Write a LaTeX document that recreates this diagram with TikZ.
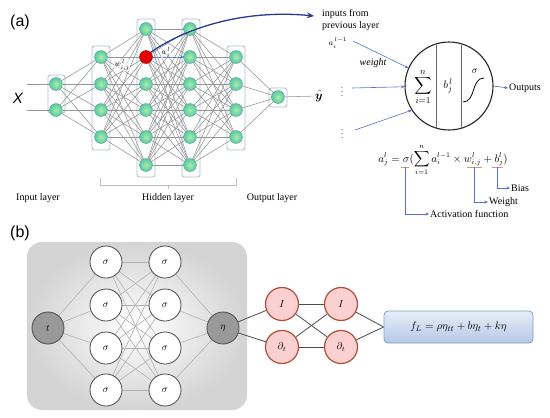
\documentclass[tikz,border=0pt]{standalone}
\usepackage{amsmath}
\usepackage{bm}
\usepackage{fontspec}
\setmainfont{Liberation Serif}
\newfontfamily\sansf{Liberation Sans}
\usetikzlibrary{arrows.meta}
\definecolor{gin}{HTML}{A6EFA8}
\definecolor{gout}{HTML}{5CC6A6}
\definecolor{boxc}{HTML}{AFC3CF}
\definecolor{edgec}{HTML}{959595}
\definecolor{navy}{HTML}{2B3990}
\definecolor{lblue}{HTML}{5B6FD0}
\definecolor{ulc}{HTML}{D09A70}
\definecolor{rbord}{HTML}{B0503A}
\definecolor{rfill}{HTML}{FAD0D0}
\definecolor{fbord}{HTML}{7F9FCF}
\definecolor{ftop}{HTML}{E6EEF8}
\definecolor{fbot}{HTML}{B6C8E6}
\pgfdeclarelayer{bgbox}
\pgfdeclarelayer{bg}
\pgfsetlayers{bgbox,bg,main}
\begin{document}
\begin{tikzpicture}[x=1pt,y=-1pt,
  gn/.style={circle,minimum size=13pt,inner sep=0pt,inner color=gin,outer color=gout,draw=gout!80!black,line width=0.3pt},
  rn/.style={circle,minimum size=13pt,inner sep=0pt,fill=red!90!black,draw=red!50!black,line width=0.4pt},
  lbox/.style={draw=boxc,rounded corners=2.5pt,line width=0.9pt,fill=white},
  ed/.style={draw=edgec,line width=0.55pt},
  txt/.style={font=\fontsize{10}{12}\selectfont,inner sep=1pt},
  barrow/.style={draw=lblue,line width=0.6pt,-{Stealth[length=3.5pt,width=3pt]}},
  ul/.style={draw=ulc,line width=0.8pt},
  dn/.style={circle,minimum size=32pt,inner sep=0pt,draw=black!70,fill=black!40,line width=0.8pt},
  sn/.style={circle,minimum size=32pt,inner sep=0pt,draw=black!70,fill=white,line width=0.8pt},
  rnd/.style={circle,minimum size=33pt,inner sep=0pt,draw=rbord,fill=rfill,line width=1.2pt},
  led/.style={draw=black!30,line width=0.6pt},
  ded/.style={draw=black!70,line width=0.8pt},
  fbox/.style={draw=fbord,line width=0.8pt,rounded corners=4pt,top color=ftop,bottom color=fbot,minimum width=149pt,minimum height=32pt}
]
\useasboundingbox (0,0) rectangle (550,418);
\begin{pgfonlayer}{bgbox}
\fill[white] (0,0) rectangle (550,418);
\end{pgfonlayer}

% ---------- (a) ----------
\node[font=\sansf\fontsize{16}{16}\selectfont] (la) at (20,22) {(a)};

\begin{pgfonlayer}{bgbox}
\draw[lbox] (48,75) rectangle (65,113);
\draw[lbox] (92,46) rectangle (110,150);
\draw[lbox] (137,19) rectangle (155,177);
\draw[lbox] (182,19) rectangle (200,177);
\draw[lbox] (227,46) rectangle (245,150);
\draw[lbox] (269,88) rectangle (287,107);
\end{pgfonlayer}

\foreach \y [count=\i] in {84,110} \node[gn] (a1-\i) at (56,\y) {};
\foreach \y [count=\i] in {57,84,110,137} \node[gn] (a2-\i) at (101,\y) {};
\foreach \y/\s [count=\i] in {29/gn,57/rn,84/gn,110/gn,137/gn,165/gn} \node[\s] (a3-\i) at (146,\y) {};
\foreach \y [count=\i] in {29,57,84,110,137,165} \node[gn] (a4-\i) at (190,\y) {};
\foreach \y [count=\i] in {57,84,110,137} \node[gn] (a5-\i) at (236,\y) {};
\node[gn] (a6) at (278,97) {};

\begin{pgfonlayer}{bg}
\foreach \i in {1,2} \foreach \j in {1,...,4} \draw[ed] (a1-\i) -- (a2-\j);
\foreach \i in {1,...,4} \foreach \j in {1,...,6} \draw[ed] (a2-\i) -- (a3-\j);
\foreach \i in {1,...,6} \foreach \j in {1,...,6} \draw[ed] (a3-\i) -- (a4-\j);
\foreach \i in {1,...,6} \foreach \j in {1,...,4} \draw[ed] (a4-\i) -- (a5-\j);
\foreach \i in {1,...,4} \draw[ed] (a5-\i) -- (a6);
\coordinate (x1) at (27,84);
\coordinate (x2) at (27,110);
\draw[ed] (x1) -- (a1-1);
\draw[ed] (x2) -- (a1-2);
\end{pgfonlayer}

\node[font=\sansf\itshape\fontsize{15}{15}\selectfont] (X) at (18,98) {X};
\node[font=\fontsize{12}{12}\selectfont] (yh) at (319,96) {$\hat{\bm y}$};
\draw[ed] (a6) -- (yh);

\node[font=\footnotesize,inner sep=0.5pt,fill=white,fill opacity=0.6,text opacity=1] (wl) at (122,65) {$w_{i,j}^{\,l}$};
\node[font=\footnotesize,inner sep=0.5pt,fill=white,fill opacity=0.6,text opacity=1] (al) at (166,53) {$a_j^{\,l}$};
\draw[draw=lblue,densely dashed,line width=0.6pt,-{Stealth[length=3pt,width=3pt]}] (a3-2) -- (a4-2);

\coordinate (arrEnd) at (314,16);
\draw[navy,line width=1.3pt,-{Stealth[length=7pt,width=6pt]}] (a3-2.north east) .. controls (195,22) and (255,10) .. (arrEnd);

\draw[black!25,line width=0.8pt] (100,178) -- (100,185) -- (236,185) -- (236,178);
\draw[black!25,line width=0.8pt] (168,185) -- (168,189);
\node[txt] (inl) at (38,198) {Input layer};
\node[txt] (hl) at (168,198) {Hidden layer};
\node[txt] (ol) at (272,198) {Output layer};

% neuron
\node[txt,anchor=west,align=left] (inp) at (321,20) {inputs from\\previous layer};
\node[font=\footnotesize,inner sep=0.5pt] (ai) at (338,43) {$a_i^{\,l-1}$};
\node[txt,font=\fontsize{10}{12}\selectfont\itshape] (wt0) at (373,63) {weight};
\node[font=\footnotesize] (d1) at (342,89) {$\vdots$};
\node[font=\footnotesize] (d2) at (342,131) {$\vdots$};

\node[circle,draw=black!85,line width=1.1pt,minimum size=88pt,inner sep=0pt] (neu) at (449,86) {};
\draw[black!60,line width=0.6pt] (436,44.5) -- (436,127.5);
\draw[black!60,line width=0.6pt] (461,44.5) -- (461,127.5);
\node[font=\fontsize{13}{13}\selectfont] (sum) at (423,87) {$\displaystyle\sum_{i=1}^{n}$};
\node[font=\fontsize{11}{11}\selectfont] (bj) at (448,86) {$b_j^{\,l}$};
\node[font=\fontsize{10}{10}\selectfont] (sg) at (475,71) {$\sigma$};
\draw[black,line width=0.8pt] (463,102) .. controls (476,102) and (471,78) .. (484,78);

\coordinate (in1) at (353,41);
\coordinate (in2) at (352,88);
\coordinate (in3) at (355,130);
\draw[barrow] (in1) -- (neu.156);
\draw[barrow] (in2) -- (neu.181);
\draw[barrow] (in3) -- (neu.213);
\node[txt,anchor=west] (outs) at (508,88) {Outputs};
\draw[barrow] (neu.east) -- (outs.west);

% equation
\node[font=\fontsize{10.5}{12}\selectfont] (eq) at (443,160) {$\displaystyle a_j^l=\sigma(\sum_{i=1}^{n} a_i^{l-1}\times w_{i,j}^{l}+b_j^{l})$};
\coordinate (uls1) at (401,167); \coordinate (uls2) at (409,167);
\coordinate (ulw1) at (467,167); \coordinate (ulw2) at (482,167);
\coordinate (ulb1) at (492,167); \coordinate (ulb2) at (503,167);
\draw[ul] (uls1) -- (uls2);
\draw[ul] (ulw1) -- (ulw2);
\draw[ul] (ulb1) -- (ulb2);
\coordinate (s0) at (405,167);
\coordinate (w0) at (474.5,167);
\coordinate (b0) at (497.5,167);
\node[txt,anchor=west] (act) at (429,214) {Activation function};
\node[txt,anchor=west] (wgt) at (488,202) {Weight};
\node[txt,anchor=west] (bias) at (510,188) {Bias};
\draw[barrow] (s0) |- (act.west);
\draw[barrow] (w0) |- (wgt.west);
\draw[barrow] (b0) |- (bias.west);

% ---------- (b) ----------
\node[font=\sansf\fontsize{16}{16}\selectfont] (lb) at (20,233) {(b)};
\begin{pgfonlayer}{bgbox}
\shade[rounded corners=15pt,inner color=white,outer color=black!17] (27,242) rectangle (247,410);
\end{pgfonlayer}

\node[dn] (t) at (48,328) {$t$};
\foreach \y [count=\i] in {262,305,348,390} {
  \node[sn] (s1-\i) at (106,\y) {$\sigma$};
  \node[sn] (s2-\i) at (165,\y) {$\sigma$};
}
\node[dn] (eta) at (223,328) {$\eta$};
\node[rnd] (I1) at (282,304) {$I$};
\node[rnd] (D1) at (282,347) {$\partial_t$};
\node[rnd] (I2) at (341,304) {$I$};
\node[rnd] (D2) at (341,347) {$\partial_t$};
\node[fbox] (fl) at (458.5,327) {\fontsize{11}{13}\selectfont$f_L=\rho\eta_{tt}+b\eta_t+k\eta$};

\begin{pgfonlayer}{bg}
\foreach \i in {1,...,4} \draw[led] (t) -- (s1-\i);
\foreach \i in {1,...,4} \foreach \j in {1,...,4} \draw[led] (s1-\i) -- (s2-\j);
\foreach \i in {1,...,4} \draw[led] (s2-\i) -- (eta);
\draw[ded] (eta) -- (I1);
\draw[ded] (eta) -- (D1);
\draw[ded] (I1) -- (I2);
\draw[ded] (I1) -- (D2);
\draw[ded] (D1) -- (I2);
\draw[ded] (D1) -- (D2);
\draw[ded] (I2) -- (fl.west);
\draw[ded] (D2) -- (fl.west);
\end{pgfonlayer}
\end{tikzpicture}
\end{document}
